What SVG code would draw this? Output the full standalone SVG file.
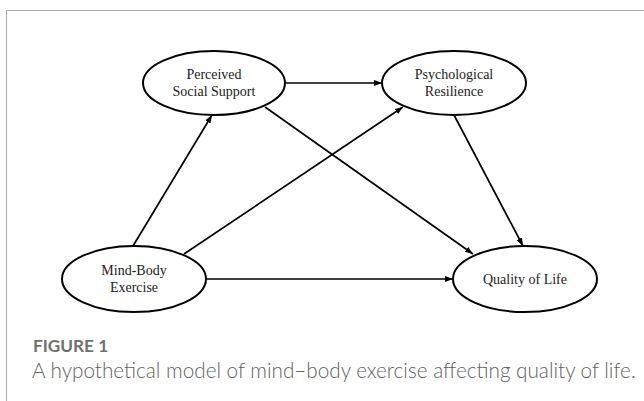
<svg xmlns="http://www.w3.org/2000/svg" width="644" height="401" viewBox="0 0 644 401">
<style>
.node ellipse{fill:#fff;stroke:#000;stroke-width:2}
.node text{font-family:"Liberation Serif","Times New Roman",serif;font-size:14px;fill:#222;text-anchor:middle}
.edges line{stroke:#000;stroke-width:1.7;marker-end:url(#ah)}
.lbl{font-family:Lato,"Open Sans",sans-serif;font-size:17.2px;font-weight:bold;fill:#707070}
.cap{font-family:Lato,"Open Sans",sans-serif;font-size:20.7px;font-weight:300;fill:#626262}
</style>
<defs>
<marker id="ah" markerUnits="userSpaceOnUse" markerWidth="9" markerHeight="7" refX="8" refY="3" orient="auto">
<path d="M0,0 L8,3 L0,6 z" fill="#000"/>
</marker>
</defs>
<rect width="644" height="401" fill="#fff"/>
<path d="M6.5,401 V10.5 H644" fill="none" stroke="#aaa" stroke-width="1"/>
<g class="edges">
<line x1="285" y1="83" x2="382" y2="83"/>
<line x1="133" y1="246" x2="212" y2="115"/>
<line x1="184" y1="254" x2="403" y2="107"/>
<line x1="265" y1="107" x2="473" y2="254"/>
<line x1="454" y1="115" x2="523" y2="246"/>
<line x1="206" y1="279" x2="453" y2="279"/>
</g>
<g id="perceived" class="node">
<ellipse cx="214" cy="83" rx="71" ry="32"/>
<text x="214" y="79">Perceived</text>
<text x="214" y="96">Social Support</text>
</g>
<g id="resilience" class="node">
<ellipse cx="454" cy="83" rx="72" ry="32"/>
<text x="454" y="79">Psychological</text>
<text x="454" y="96">Resilience</text>
</g>
<g id="mindbody" class="node">
<ellipse cx="134" cy="279" rx="72" ry="33"/>
<text x="134" y="275">Mind-Body</text>
<text x="134" y="292">Exercise</text>
</g>
<g id="qol" class="node">
<ellipse cx="525" cy="279" rx="72" ry="33"/>
<text x="525" y="284">Quality of Life</text>
</g>
<text class="lbl" x="33" y="352">FIGURE 1</text>
<text class="cap" x="32" y="378">A hypothetical model of mind–body exercise affecting quality of life.</text>
</svg>
